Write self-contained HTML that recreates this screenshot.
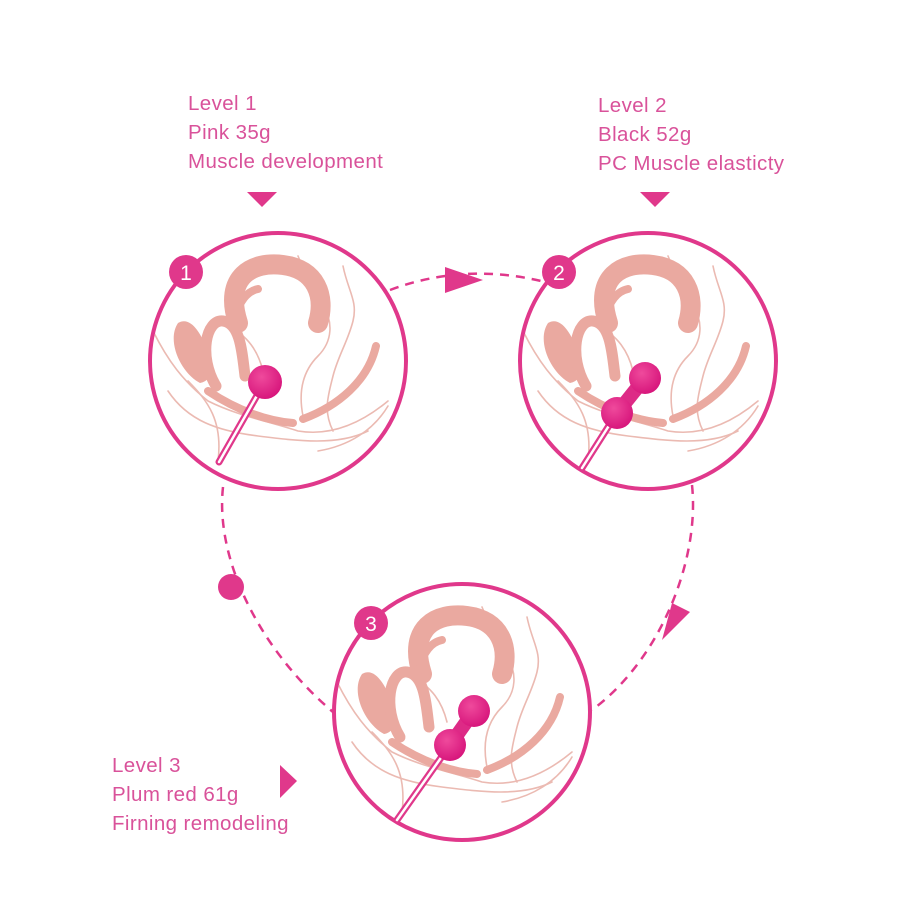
<!DOCTYPE html>
<html><head><meta charset="utf-8"><style>
html,body{margin:0;padding:0;background:#fff;width:900px;height:900px;overflow:hidden}
svg{display:block}
text{font-family:"Liberation Sans","DejaVu Sans",sans-serif}
</style></head><body>
<svg width="900" height="900" viewBox="0 0 900 900" xmlns="http://www.w3.org/2000/svg">
<defs>
<clipPath id="cc"><circle cx="0" cy="0" r="126"/></clipPath>
<radialGradient id="bg" cx="0.4" cy="0.35" r="0.7"><stop offset="0" stop-color="#ef4a9c"/><stop offset="1" stop-color="#d6137a"/></radialGradient>
<g id="anat">
 <g clip-path="url(#cc)" fill="none" stroke-linecap="round">
  <g stroke="#ebbab2" stroke-width="1.6">
   <path d="M20 -105 C30 -80 40 -70 45 -55 C55 -40 55 -20 40 -5 C25 10 20 30 25 55"/>
   <path d="M65 -95 C70 -70 80 -60 75 -40 C70 -20 60 -5 55 15 C50 35 45 50 55 70"/>
   <path d="M-125 -30 C-110 0 -95 20 -70 40 C-40 55 -10 60 20 70 C50 75 80 65 110 40"/>
   <path d="M-110 30 C-90 60 -60 70 -20 75 C20 80 60 85 90 70"/>
   <path d="M-90 20 C-70 40 -55 60 -60 100"/>
   <path d="M40 90 C70 85 95 70 110 45"/>
   <path d="M-50 -35 C-30 -25 -20 -10 -15 10"/>
  </g>
  <!-- uterus -->
  <path d="M-40 -38 C-55 -85 -25 -100 5 -96 C38 -92 48 -65 40 -38" stroke="#eaa9a0" stroke-width="20"/>
  <path d="M-42 -42 C-40 -60 -30 -70 -20 -72" stroke="#eaa9a0" stroke-width="8"/>
  <!-- bladder left -->
  <path d="M-100 -38 C-112 -20 -97 12 -78 22 C-66 20 -63 5 -70 -10 C-78 -30 -88 -45 -100 -38Z" fill="#eaa9a0" stroke="none"/>
  <!-- vagina U -->
  <path d="M-62 25 C-80 -5 -72 -42 -55 -40 C-38 -38 -36 -10 -33 15" stroke="#eaa9a0" stroke-width="11"/>
  <path d="M98 -15 C90 20 60 45 25 58" stroke="#eaa9a0" stroke-width="8"/>
  <path d="M-70 30 C-40 50 -10 60 15 62" stroke="#eaa9a0" stroke-width="8"/>
 </g>
</g>
</defs>

<g fill="#d9529a" font-size="20.5" letter-spacing="0.4">
<text x="188" y="110">Level 1</text><text x="188" y="139">Pink 35g</text><text x="188" y="168">Muscle development</text>
<text x="598" y="112">Level 2</text><text x="598" y="141">Black 52g</text><text x="598" y="170">PC Muscle elasticty</text>
<text x="112" y="772">Level 3</text><text x="112" y="801">Plum red 61g</text><text x="112" y="830">Firning remodeling</text>
</g>
<g fill="#e0388b">
<polygon points="247,192 277,192 262,207"/>
<polygon points="640,192 670,192 655,207"/>
<polygon points="280,765 280,798 297,781"/>
</g>

<g fill="none" stroke="#e0388b" stroke-width="2.5" stroke-dasharray="9,7">
<path d="M390 290 Q465 262 545 282"/>
<path d="M692 485 C700 560 660 660 592 710"/>
<path d="M223 487 C215 560 260 650 333 712"/>
</g>
<polygon points="445,267 445,293 483,280" fill="#e0388b"/>
<polygon points="672,603 690,612 662,640" fill="#e0388b"/>
<circle cx="231" cy="587" r="13" fill="#e0388b"/>

<g>
<circle cx="278" cy="361" r="128" fill="#fff" stroke="#e0388b" stroke-width="4"/>
<use href="#anat" x="278" y="361"/>
<line x1="263" y1="385" x2="219" y2="462" stroke="#e0388b" stroke-width="7" stroke-linecap="round"/>
<line x1="263" y1="385" x2="219" y2="462" stroke="#fff" stroke-width="2.5" stroke-linecap="round"/>
<circle cx="265" cy="382" r="17" fill="url(#bg)"/>
<circle cx="186" cy="272" r="17" fill="#e0388b"/>
<text x="186" y="280" fill="#fff" font-size="21" text-anchor="middle">1</text>
</g>
<g>
<circle cx="648" cy="361" r="128" fill="#fff" stroke="#e0388b" stroke-width="4"/>
<use href="#anat" x="648" y="361"/>
<line x1="617" y1="413" x2="582" y2="468" stroke="#e0388b" stroke-width="7" stroke-linecap="round"/>
<line x1="617" y1="413" x2="582" y2="468" stroke="#fff" stroke-width="2.5" stroke-linecap="round"/>
<line x1="645" y1="378" x2="617" y2="413" stroke="#dd2a86" stroke-width="14"/>
<circle cx="645" cy="378" r="16" fill="url(#bg)"/>
<circle cx="617" cy="413" r="16" fill="url(#bg)"/>
<circle cx="559" cy="272" r="17" fill="#e0388b"/>
<text x="559" y="280" fill="#fff" font-size="21" text-anchor="middle">2</text>
</g>
<g>
<circle cx="462" cy="712" r="128" fill="#fff" stroke="#e0388b" stroke-width="4"/>
<use href="#anat" x="462" y="712"/>
<line x1="450" y1="745" x2="397" y2="820" stroke="#e0388b" stroke-width="7" stroke-linecap="round"/>
<line x1="450" y1="745" x2="397" y2="820" stroke="#fff" stroke-width="2.5" stroke-linecap="round"/>
<line x1="474" y1="711" x2="450" y2="745" stroke="#dd2a86" stroke-width="14"/>
<circle cx="474" cy="711" r="16" fill="url(#bg)"/>
<circle cx="450" cy="745" r="16" fill="url(#bg)"/>
<circle cx="371" cy="623" r="17" fill="#e0388b"/>
<text x="371" y="631" fill="#fff" font-size="21" text-anchor="middle">3</text>
</g>
</svg>
</body></html>
